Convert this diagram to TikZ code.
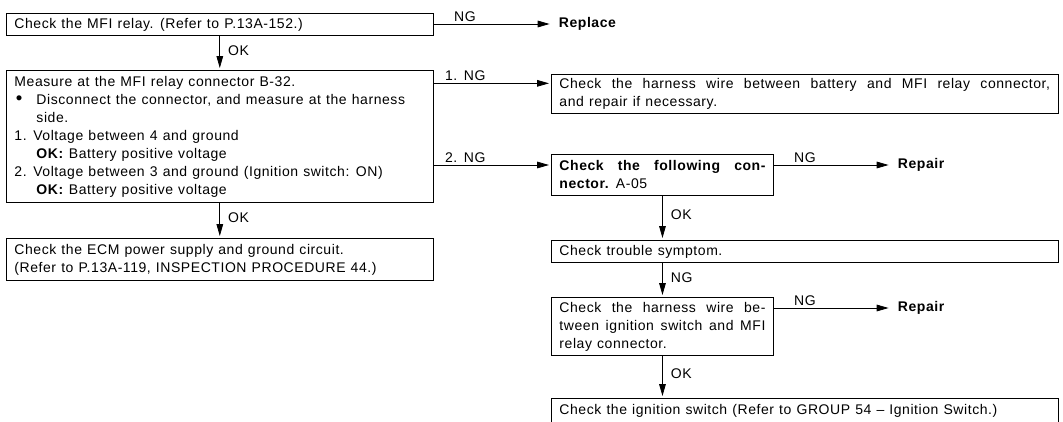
\documentclass[tikz,border=0pt]{standalone}
\usepackage{fontspec}
\setmainfont{Liberation Sans}[LetterSpace=4, WordSpace=1.15]
\usetikzlibrary{positioning,arrows.meta}

\newcommand{\bigdot}{\makebox[16.5pt][l]{\hspace{1pt}\raisebox{-0.6pt}{\fontsize{14pt}{14pt}\selectfont\textbullet}}}

\begin{document}
\begin{tikzpicture}[x=0.75pt, y=-0.75pt,
  font=\fontsize{10.5pt}{13.5pt}\selectfont,
  box/.style={draw, line width=0.7pt, anchor=north west, inner xsep=6pt, inner ysep=0pt, align=justify},
  wide/.style={box, text width=308pt},
  long/.style={box, text width=368pt},
  small/.style={box, text width=154.5pt},
  arr/.style={line width=0.6pt, -{Triangle[length=9pt,width=5pt]}, shorten >=1.5pt},
  lbl/.style={above, inner sep=1.5pt, pos=0.27},
  ok/.style={right, inner xsep=6pt, pos=0.43},
  res/.style={anchor=west, font=\fontsize{10.5pt}{13.5pt}\selectfont\bfseries, inner xsep=6.75pt}]
  \useasboundingbox (0,0) rectangle (1063,421);

  % left column
  \node[wide, minimum height=16.5pt] (relay) at (6,13) {Check the MFI relay. (Refer to P.13A-152.)};
  \node[wide, minimum height=99pt] (measure) at (6,70) {Measure at the MFI relay connector B-32.\\
    \bigdot Disconnect the connector, and measure at the harness\\
    \hspace*{16.5pt}side.\\
    1. Voltage between 4 and ground\\
    \hspace*{16.5pt}\textbf{OK:} Battery positive voltage\\
    2. Voltage between 3 and ground (Ignition switch: ON)\\
    \hspace*{16.5pt}\textbf{OK:} Battery positive voltage};
  \node[wide, minimum height=31.5pt] (ecm) at (6,238) {Check the ECM power supply and ground circuit.\\
    (Refer to P.13A-119, INSPECTION PROCEDURE 44.)};

  % right column
  \node[long, minimum height=29.25pt] (battwire) at (551,74) {Check the harness wire between battery and MFI relay connector,\linebreak and repair if necessary.};
  \node[small, minimum height=30.75pt] (conn) at (551,154) {\textbf{Check the following con-}\linebreak\textbf{nector.} A-05};
  \node[long, minimum height=16.5pt] (symptom) at (551,240) {Check trouble symptom.};
  \node[small, minimum height=43.5pt] (ignwire) at (551,297) {Check the harness wire be-\linebreak tween ignition switch and MFI\linebreak relay connector.};
  \node[long, minimum height=18pt] (ignsw) at (551,398) {\parfillskip=0pt Check the ignition switch (Refer to GROUP 54 -- Ignition Switch.)};

  % NG branches to the right
  \coordinate (r1) at ([yshift=-8.25pt]relay.north east);
  \node[res, right=87pt of r1] (replace) {Replace};
  \draw[arr, shorten >=0pt] (r1) -- (replace.west) node[lbl] {NG};

  \coordinate (n1) at ([yshift=-7pt]battwire.north west);
  \draw[arr] (n1 -| measure.east) -- (n1) node[lbl] {1. NG};
  \coordinate (n2) at ([yshift=-8.25pt]conn.north west);
  \draw[arr] (n2 -| measure.east) -- (n2) node[lbl] {2. NG};

  \coordinate (r2) at ([yshift=-8.25pt]conn.north east);
  \node[res, right=86pt of r2] (repair1) {Repair};
  \draw[arr, shorten >=0pt] (r2) -- (repair1.west) node[lbl] {NG};
  \coordinate (r3) at ([yshift=-8.25pt]ignwire.north east);
  \node[res, right=86pt of r3] (repair2) {Repair};
  \draw[arr, shorten >=0pt] (r3) -- (repair2.west) node[lbl] {NG};

  % OK / NG steps downwards
  \draw[arr] (relay.south) -- (measure.north) node[ok] {OK};
  \draw[arr] (measure.south) -- (ecm.north) node[ok] {OK};
  \draw[arr] (conn.south) -- (conn.south |- symptom.north) node[ok] {OK};
  \draw[arr] (ignwire.north |- symptom.south) -- (ignwire.north) node[ok] {NG};
  \draw[arr] (ignwire.south) -- (ignwire.south |- ignsw.north) node[ok] {OK};
\end{tikzpicture}
\end{document}
